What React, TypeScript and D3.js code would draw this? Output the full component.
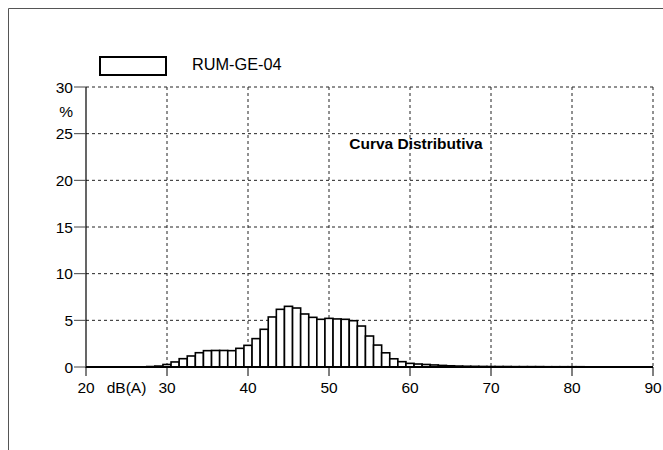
import React from "react";
import * as d3 from "d3";

const levels = [28,29,30,31,32,33,34,35,36,37,38,39,40,41,42,43,44,45,46,47,48,49,50,51,52,53,54,55,56,57,58,59,60,61,62,63,64,65,66,67,68,69,70,71,72,73,74,75,76,77,78,79,80,81,82,83,84,85];
const percents = [0.05,0.1,0.27,0.54,0.89,1.18,1.53,1.75,1.77,1.77,1.75,2.0,2.32,3.04,4.04,5.36,6.18,6.5,6.32,5.68,5.32,5.11,5.21,5.15,5.11,4.96,4.39,3.32,2.35,1.52,0.88,0.57,0.39,0.32,0.27,0.22,0.17,0.13,0.1,0.08,0.07,0.06,0.05,0.05,0.05,0.04,0.04,0.04,0.04,0.03,0.03,0.03,0.03,0.03,0.02,0.02,0.02,0.02];
const xTicks = [20,30,40,50,60,70,80,90];
const yTicks = [0,5,10,15,20,25,30];
const seriesName = "RUM-GE-04";
const chartTitle = "Curva Distributiva";
const xUnit = "dB(A)";
const yUnit = "%";

export default function App() {
  const W = 663, H = 450;
  const x = d3.scaleLinear().domain([20, 90]).range([86, 653]);
  const y = d3.scaleLinear().domain([0, 30]).range([367, 87]);
  const font = "Arial, 'Liberation Sans', Helvetica, sans-serif";
  const bw = x(1) - x(0);
  return (
    <svg width={W} height={H} style={{ position: "absolute", left: 0, top: 0 }} fontFamily={font}>
      <rect x={0} y={0} width={W} height={H} fill="#fff" />
      {/* outer frame */}
      <line x1={8.5} y1={8.5} x2={W} y2={8.5} stroke="#555" strokeWidth={1} />
      <line x1={8.5} y1={8.5} x2={8.5} y2={H} stroke="#555" strokeWidth={1} />

      {/* grid */}
      {xTicks.filter(t => t !== 20).map(t => (
        <line key={"gx" + t} x1={x(t)} x2={x(t)} y1={y(30)} y2={y(0)} stroke="#222" strokeWidth={1} strokeDasharray="3,3" />
      ))}
      {yTicks.filter(t => t !== 0).map(t => (
        <line key={"gy" + t} x1={x(20)} x2={x(90)} y1={y(t)} y2={y(t)} stroke="#222" strokeWidth={1} strokeDasharray="3,3" />
      ))}

      {/* bars */}
      {levels.map((l, i) => (
        <rect key={"b" + l} x={x(l - 0.5)} y={y(percents[i])} width={bw} height={y(0) - y(percents[i])}
          fill="#fff" stroke="#000" strokeWidth={1.6} />
      ))}

      {/* axes */}
      <line x1={x(20)} x2={x(20)} y1={y(30)} y2={y(0) + 1} stroke="#000" strokeWidth={1.2} />
      <line x1={x(20)} x2={x(90)} y1={y(0)} y2={y(0)} stroke="#000" strokeWidth={2} />

      {/* y ticks */}
      {yTicks.map(t => (
        <g key={"yt" + t}>
          <line x1={74} x2={x(20)} y1={y(t)} y2={y(t)} stroke="#444" strokeWidth={1} />
          <text x={73} y={y(t)} dy="0.36em" textAnchor="end" fontSize={15.5} fill="#000">{t}</text>
        </g>
      ))}
      <text x={73} y={117} textAnchor="end" fontSize={15.5} fill="#000">{yUnit}</text>

      {/* x ticks */}
      {xTicks.map(t => (
        <g key={"xt" + t}>
          <line x1={x(t)} x2={x(t)} y1={y(0)} y2={y(0) + 9} stroke="#000" strokeWidth={1} />
          <text x={x(t)} y={393} textAnchor="middle" fontSize={15.5} fill="#000">{t}</text>
        </g>
      ))}
      <text x={x(25)} y={393} textAnchor="middle" fontSize={15.5} fill="#000">{xUnit}</text>

      {/* title */}
      <text x={416} y={149} textAnchor="middle" fontSize={15.5} fontWeight="bold" fill="#000">{chartTitle}</text>

      {/* legend */}
      <rect x={100} y={57} width={66} height={18} fill="#fff" stroke="#000" strokeWidth={2} />
      <text x={192} y={69.5} fontSize={16.3} fill="#000">{seriesName}</text>
    </svg>
  );
}
